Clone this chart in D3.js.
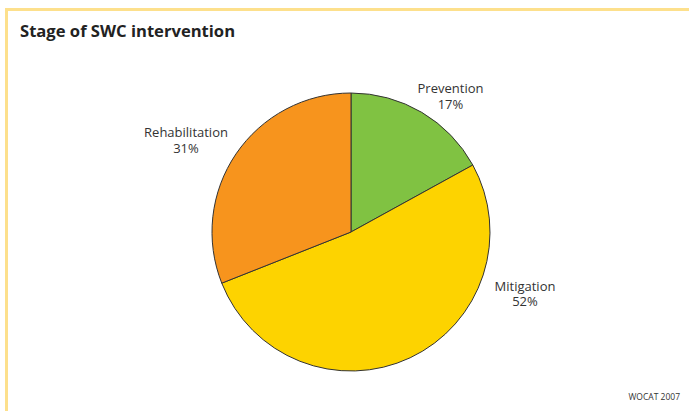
<!DOCTYPE html>
<html>
<head>
<meta charset="utf-8">
<script src="https://cdn.jsdelivr.net/npm/d3@7"></script>
<style>
  html, body { margin: 0; padding: 0; background: #fff; }
  svg { display: block; }
</style>
</head>
<body>
<svg id="chart" width="689" height="411"></svg>
<script>
// Stage of SWC intervention: share of technologies by stage
const categories = ["Prevention", "Mitigation", "Rehabilitation"];
const shares = [17, 52, 31];
const sliceColors = ["#80c242", "#fdd300", "#f7941d"];

const W = 689, H = 411;
const svg = d3.select("#chart");

// light frame along top and left edge
svg.append("path")
  .attr("d", `M${W},9.5 H6.5 V${H}`)
  .attr("fill", "none")
  .attr("stroke", "#fde08c")
  .attr("stroke-width", 3);

svg.append("text")
  .attr("x", 20).attr("y", 37)
  .attr("font-family", "'Open Sans', sans-serif")
  .attr("font-weight", "bold")
  .attr("font-size", 16.6)
  .attr("fill", "#222")
  .text("Stage of SWC intervention");

svg.append("text")
  .attr("x", 680).attr("y", 399.5)
  .attr("text-anchor", "end")
  .attr("font-family", "'Open Sans', sans-serif")
  .attr("font-size", 8.5)
  .attr("fill", "#333")
  .text("WOCAT 2007");

const cx = 351, cy = 232, r = 139;
const data = categories.map((c, i) => ({ name: c, value: shares[i], color: sliceColors[i] }));

const pie = d3.pie().sort(null).value(d => d.value);
const arc = d3.arc().innerRadius(0).outerRadius(r);
const arcs = pie(data);

const g = svg.append("g").attr("transform", `translate(${cx},${cy})`);
g.selectAll("path.slice")
  .data(arcs)
  .join("path")
  .attr("class", "slice")
  .attr("d", arc)
  .attr("fill", d => d.data.color)
  .attr("stroke", "#333")
  .attr("stroke-width", 1)
  .attr("stroke-linejoin", "round");

// label anchors outside the rim, relative to the pie centre
const labelPos = {
  Prevention: [99.5, -139],
  Mitigation: [174, 58.7],
  Rehabilitation: [-165, -95]
};

const labels = g.selectAll("text.lbl")
  .data(arcs)
  .join("text")
  .attr("class", "lbl")
  .attr("text-anchor", "middle")
  .attr("font-family", "'Open Sans', sans-serif")
  .attr("font-size", 13)
  .attr("fill", "#333")
  .attr("transform", d => `translate(${labelPos[d.data.name][0]},${labelPos[d.data.name][1]})`);
labels.append("tspan").attr("x", 0).attr("y", 0).text(d => d.data.name);
labels.append("tspan").attr("x", 0).attr("y", 15.5).text(d => d.data.value + "%");
</script>
</body>
</html>
